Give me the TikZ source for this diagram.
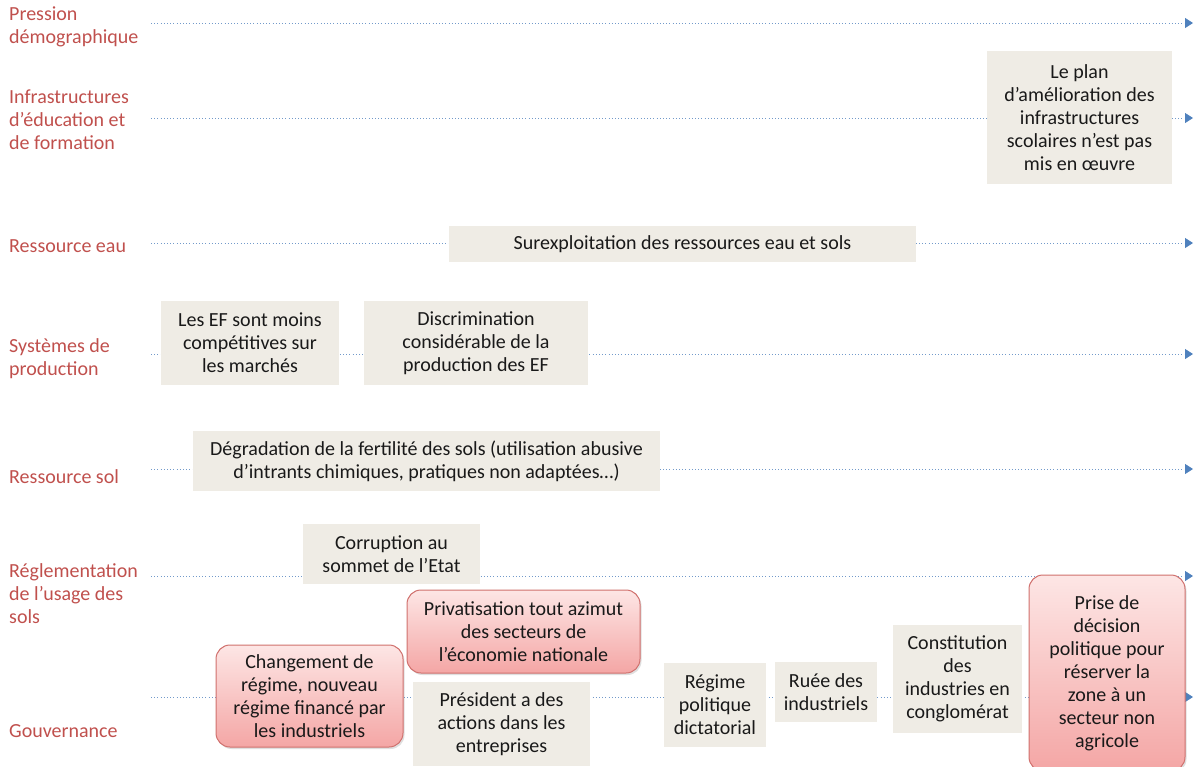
\documentclass[tikz,border=0pt]{standalone}
\usepackage{fontspec}
\setmainfont{Carlito}
\usetikzlibrary{arrows.meta,shadows}
\definecolor{labred}{HTML}{C0504D}
\definecolor{laneblue}{HTML}{4F81BD}
\definecolor{boxfill}{HTML}{EFECE5}
\definecolor{redtop}{HTML}{FDE6E5}
\definecolor{redbot}{HTML}{F4A6A5}
\definecolor{redline}{HTML}{D0706D}
\begin{document}
\begin{tikzpicture}[x=1pt,y=-1pt,
  every node/.style={font=\fontsize{20}{23}\selectfont, inner sep=0pt, align=center},
  lanelabel/.style={anchor=west, align=left, text=labred},
  lanearrow/.style={draw=laneblue!80, line width=0.9pt, dash pattern=on 1pt off 2.2pt,
     -{Triangle[length=8pt,width=10pt,fill=laneblue,color=laneblue]}},
  beige/.style={fill=boxfill, text=black!90},
  redbox/.style={draw=redline, line width=1pt, rounded corners=14pt, text=black!90,
     top color=redtop, bottom color=redbot,
     drop shadow={opacity=0.25, shadow xshift=1.5pt, shadow yshift=-2pt}},
]
\useasboundingbox (0,0) rectangle (1196,766);

% lane labels
\node[lanelabel] (lPression) at (9,26.5) {Pression\\démographique};
\node[lanelabel] (lInfra) at (9,120) {Infrastructures\\d’éducation et\\de formation};
\node[lanelabel] (lEau) at (9,246) {Ressource eau};
\node[lanelabel] (lSys) at (9,358.5) {Systèmes de\\production};
\node[lanelabel] (lSol) at (9,477) {Ressource sol};
\node[lanelabel] (lRegl) at (9,594) {Réglementation\\de l’usage des\\sols};
\node[lanelabel] (lGouv) at (9,731) {Gouvernance};

% lanes
\foreach \n/\y in {1/23,2/118,3/243,4/354,5/469,6/576,7/697}{
  \coordinate (s\n) at (151,\y);
  \coordinate (e\n) at (1193,\y);
  \draw[lanearrow] (s\n) -- (e\n);
}

% boxes
\node[beige, minimum width=185pt, minimum height=133pt] (plan) at (1079.5,117.5)
  {Le plan\\d’amélioration des\\infrastructures\\scolaires n’est pas\\mis en œuvre};
\node[beige, minimum width=467pt, minimum height=36pt] (surexp) at (682.5,244)
  {Surexploitation des ressources eau et sols};
\node[beige, minimum width=178pt, minimum height=84pt] (ef) at (250,343)
  {Les EF sont moins\\compétitives sur\\les marchés};
\node[beige, minimum width=224pt, minimum height=84pt] (discr) at (476,343)
  {Discrimination\\considérable de la\\production des EF};
\node[beige, minimum width=467pt, minimum height=60pt] (degr) at (426.5,461)
  {Dégradation de la fertilité des sols (utilisation abusive\\d’intrants chimiques, pratiques non adaptées…)};
\node[beige, minimum width=177pt, minimum height=60pt] (corr) at (391.5,554)
  {Corruption au\\sommet de l’Etat};
\node[beige, minimum width=177pt, minimum height=84pt] (pres) at (501.5,724)
  {Président a des\\actions dans les\\entreprises};
\node[beige, minimum width=102pt, minimum height=84pt] (regime) at (715,705)
  {Régime\\politique\\dictatorial};
\node[beige, minimum width=102pt, minimum height=60pt] (ruee) at (826,692)
  {Ruée des\\industriels};
\node[beige, minimum width=129pt, minimum height=108pt] (const) at (957.5,679)
  {Constitution\\des\\industries en\\conglomérat};

\node[redbox, minimum width=233pt, minimum height=83pt] (priv) at (523.5,631.5)
  {Privatisation tout azimut\\des secteurs de\\l’économie nationale};
\node[redbox, minimum width=187pt, minimum height=102pt] (chang) at (309.5,696)
  {Changement de\\régime, nouveau\\régime financé par\\les industriels};
\node[redbox, minimum width=156pt, minimum height=196pt] (prise) at (1107,673)
  {Prise de\\décision\\politique pour\\réserver la\\zone à un\\secteur non\\agricole};
\end{tikzpicture}
\end{document}
